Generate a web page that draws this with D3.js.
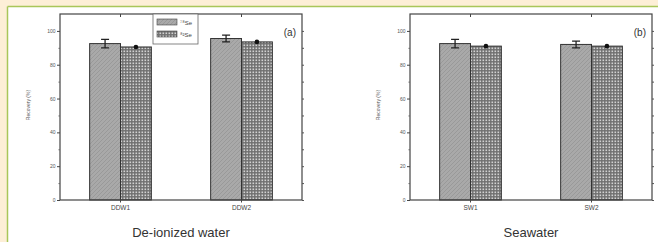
<!DOCTYPE html>
<html>
<head>
<meta charset="utf-8">
<script src="https://cdn.jsdelivr.net/npm/d3@7"></script>
<style>
  body { margin: 0; background: #fff; }
  svg { display: block; font-family: "Liberation Sans", Arial, sans-serif; }
</style>
</head>
<body>
<div id="chart"></div>
<script>
// data
const seriesNames = ["\u2077\u2078Se", "\u2078\u00b2Se"];
const catsA = ["DDW1", "DDW2"];
const catsB = ["SW1", "SW2"];
const meanA = [[92.5, 90.5], [95.5, 93.5]];
const errA = [[2.5, 0.8], [2, 0.8]];
const meanB = [[92.5, 91], [92, 91]];
const errB = [[2.5, 0.8], [2, 0.6]];
const yTicks = [0, 20, 40, 60, 80, 100];
const titles = ["De-ionized water", "Seawater"];
const tags = ["(a)", "(b)"];

const W = 658, H = 242;
const svg = d3.select("#chart").append("svg")
    .attr("width", W).attr("height", H);

// page border (cream strip + green rule)
svg.append("rect").attr("x", 0).attr("y", 0).attr("width", W).attr("height", 6).attr("fill", "#fdefd7");
svg.append("rect").attr("x", 0).attr("y", 0).attr("width", 7).attr("height", H).attr("fill", "#fdefd7");
svg.append("line").attr("x1", 7.5).attr("x2", W).attr("y1", 6.5).attr("y2", 6.5)
    .attr("stroke", "#a9c65a").attr("stroke-width", 1.5);
svg.append("line").attr("x1", 7.5).attr("x2", 7.5).attr("y1", 6.5).attr("y2", H)
    .attr("stroke", "#a9c65a").attr("stroke-width", 1.5);

// fill patterns
const defs = svg.append("defs");
const p1 = defs.append("pattern").attr("id", "hatch").attr("patternUnits", "userSpaceOnUse")
    .attr("width", 4).attr("height", 4);
p1.append("rect").attr("width", 4).attr("height", 4).attr("fill", "#a9a9a9");
p1.append("path").attr("d", "M-1,1 l2,-2 M0,4 l4,-4 M3,5 l2,-2")
    .attr("stroke", "#959595").attr("stroke-width", 0.8);
const p2 = defs.append("pattern").attr("id", "checks").attr("patternUnits", "userSpaceOnUse")
    .attr("width", 3).attr("height", 3);
p2.append("rect").attr("width", 3).attr("height", 3).attr("fill", "#6f6f6f");
p2.append("rect").attr("x", 0.5).attr("y", 0.5).attr("width", 1.6).attr("height", 1.6).attr("fill", "#d2d2d2");
const fills = ["url(#hatch)", "url(#checks)"];

const frames = [{left: 60, cats: catsA, mean: meanA, err: errA},
                {left: 410, cats: catsB, mean: meanB, err: errB}];
const plotTop = 14, plotBottom = 200, pw = 242;

frames.forEach((f, i) => {
  const g = svg.append("g").attr("transform", "translate(" + f.left + "," + plotTop + ")");
  const h = plotBottom - plotTop;

  const x0 = d3.scaleBand().domain(f.cats).range([0, pw])
      .paddingInner(0.49).paddingOuter(0.245);
  const x1 = d3.scaleBand().domain(seriesNames).range([0, x0.bandwidth()]);
  const y = d3.scaleLinear().domain([0, 110]).range([h, 0]);

  // bars
  f.cats.forEach((c, ci) => {
    seriesNames.forEach((s, si) => {
      g.append("rect")
        .attr("x", x0(c) + x1(s))
        .attr("y", y(f.mean[ci][si]))
        .attr("width", x1.bandwidth())
        .attr("height", h - y(f.mean[ci][si]))
        .attr("fill", fills[si])
        .attr("stroke", "#333").attr("stroke-width", 1);
      const cx = x0(c) + x1(s) + x1.bandwidth() / 2;
      const hi = y(f.mean[ci][si] + f.err[ci][si]), lo = y(f.mean[ci][si] - f.err[ci][si]);
      if (si === 0) {
        g.append("path")
          .attr("d", `M${cx - 4},${hi}H${cx + 4}M${cx},${hi}V${lo}M${cx - 4},${lo}H${cx + 4}`)
          .attr("stroke", "#222").attr("stroke-width", 1.3).attr("fill", "none");
      } else {
        g.append("circle").attr("cx", cx).attr("cy", y(f.mean[ci][si]))
          .attr("r", 2.3).attr("fill", "#111");
      }
    });
  });

  // frame
  g.append("rect").attr("width", pw).attr("height", h)
    .attr("fill", "none").attr("stroke", "#444").attr("stroke-width", 1.2);

  // y axis left
  const yAx = g.append("g").call(d3.axisLeft(y).tickValues(yTicks).tickSize(3).tickPadding(1.5));
  yAx.select(".domain").remove();
  yAx.selectAll("line").attr("stroke", "#444");
  yAx.selectAll("text").attr("font-size", 5).attr("fill", "#555");
  g.append("g").call(d3.axisLeft(y).tickValues(d3.range(10, 110, 20)).tickSize(1.5).tickFormat(""))
    .call(a => a.select(".domain").remove())
    .selectAll("line").attr("stroke", "#666");

  // right mirrored ticks
  g.append("g").attr("transform", "translate(" + pw + ",0)")
    .call(d3.axisRight(y).tickValues(d3.range(0, 110, 10)).tickSize(2).tickFormat(""))
    .call(a => a.select(".domain").remove())
    .selectAll("line").attr("stroke", "#555");

  // x axis bottom
  const xAx = g.append("g").attr("transform", "translate(0," + h + ")")
    .call(d3.axisBottom(x0).tickSize(2.5).tickPadding(3));
  xAx.select(".domain").remove();
  xAx.selectAll("line").attr("stroke", "#444");
  xAx.selectAll("text").attr("font-size", 6.5).attr("fill", "#444");
  // top ticks at categories
  g.append("g")
    .call(d3.axisTop(x0).tickSize(-3).tickFormat(""))
    .call(a => a.select(".domain").remove())
    .selectAll("line").attr("stroke", "#444");

  // y label
  g.append("text")
    .attr("transform", "translate(-30," + (h / 2 - 2) + ") rotate(-90)")
    .attr("text-anchor", "middle").attr("font-size", 5).attr("fill", "#555")
    .text("Recovery (%)");

  // panel tag
  g.append("text").attr("x", pw - 6).attr("y", 22)
    .attr("text-anchor", "end").attr("font-size", 10).attr("fill", "#333")
    .text(tags[i]);

  // title under the panel
  svg.append("text").attr("x", f.left + pw / 2).attr("y", 237)
    .attr("text-anchor", "middle").attr("font-size", 13).attr("fill", "#333")
    .text(titles[i]);

  // legend only in panel (a)
  if (i === 0) {
    const lg = g.append("g").attr("transform", "translate(93,0)");
    lg.append("rect").attr("width", 45).attr("height", 30)
      .attr("fill", "#fff").attr("stroke", "#666").attr("stroke-width", 0.8);
    seriesNames.forEach((s, si) => {
      lg.append("rect").attr("x", 4).attr("y", 5 + si * 12).attr("width", 20).attr("height", 6)
        .attr("fill", fills[si]).attr("stroke", "#444").attr("stroke-width", 0.6);
      lg.append("text").attr("x", 27).attr("y", 11 + si * 12)
        .attr("font-size", 6).attr("fill", "#444").text(s);
    });
  }
});
</script>
</body>
</html>
